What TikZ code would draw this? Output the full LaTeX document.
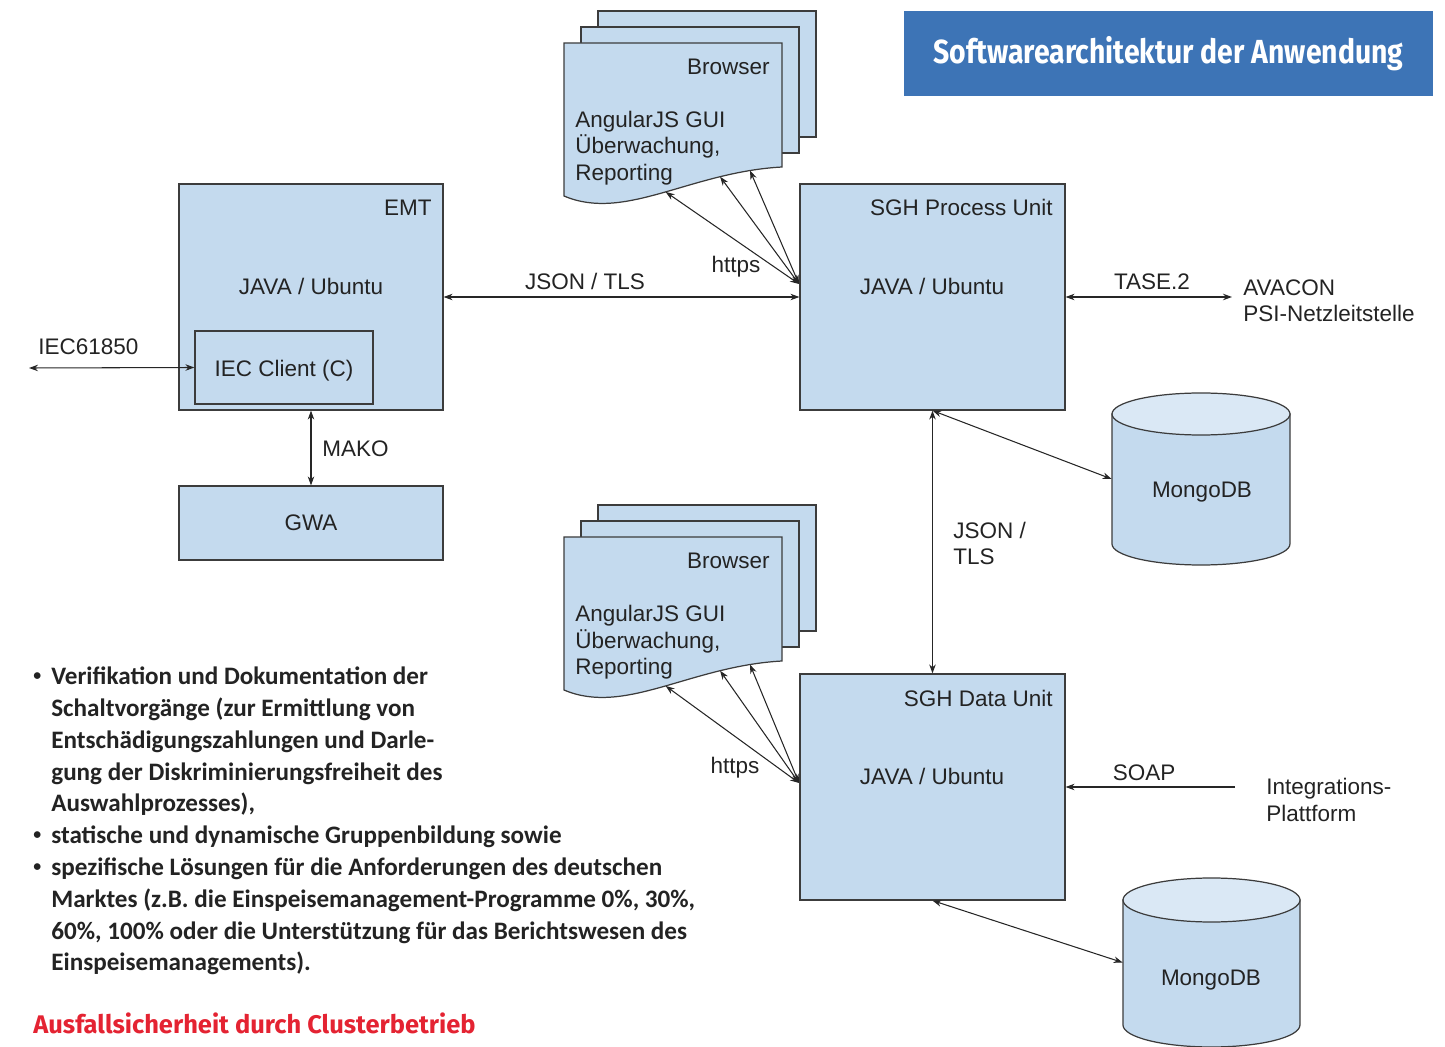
\documentclass[tikz,border=0pt]{standalone}
\usepackage{fontspec}
\setmainfont{Liberation Sans}
\newfontfamily\headfont{Fira Sans}
\newfontfamily\listfont{Carlito}
\definecolor{boxblue}{RGB}{196,218,238}
\definecolor{lidblue}{RGB}{218,232,245}
\definecolor{rim}{RGB}{60,60,60}
\definecolor{bannerblue}{RGB}{61,116,182}
\definecolor{alert}{RGB}{228,35,50}
\definecolor{ink}{RGB}{35,35,35}
\usetikzlibrary{arrows.meta,positioning}
\newcommand{\dotitem}{\raisebox{0.15em}{\fontsize{9}{9}\selectfont\textbullet}}
\tikzset{
  unit/.style={draw=rim, fill=boxblue, line width=0.7pt, inner sep=0pt},
  page/.style={draw=rim, fill=boxblue, line width=0.7pt},
  db/.style={draw=rim, fill=boxblue, line width=0.7pt},
  dblid/.style={draw=rim, fill=lidblue, line width=0.7pt},
  lbl/.style={font=\fontsize{12.8}{15}\selectfont, text=ink, inner sep=0pt},
  link/.style={{Stealth[length=1.8mm,width=1.3mm]}-{Stealth[length=1.8mm,width=1.3mm]}, line width=0.6pt, black!85},
  feed/.style={-{Stealth[length=1.8mm,width=1.3mm]}, line width=0.6pt, black!85},
}

\begin{document}
\begin{tikzpicture}[x=0.02cm,y=-0.02cm]
    \useasboundingbox (0,0) rectangle (1445,1047);
    % title
    \node[fill=bannerblue, minimum width=10.58cm, minimum height=1.7cm, inner sep=0pt, text=white,
          font=\headfont\bfseries\fontsize{19}{22}\selectfont] (banner) at (1168.5,53.5)
          {\scalebox{0.85}[1]{Softwarearchitektur der Anwendung}};

    % browser stack, top
    \draw[page] (598,11) rectangle (816,137);
    \draw[page] (581,27) rectangle (799,153);
    \draw[page] (564,43) -- (564,196) .. controls (625,222) and (690,172) .. (782,167)
      coordinate[pos=0.52] (wa1) coordinate[pos=0.76] (wa2) coordinate[pos=0.88] (wa3) -- (782,43) -- cycle;
    \node[lbl, anchor=base east] (browserA) at (770,75) {Browser};
    \node[lbl, anchor=north west, align=left] (guiA) at (575,111) {AngularJS GUI\\Überwachung,\\Reporting};

    % browser stack, bottom
    \draw[page] (598,505) rectangle (816,631);
    \draw[page] (581,521) rectangle (799,647);
    \draw[page] (564,537) -- (564,690) .. controls (625,716) and (690,666) .. (782,661)
      coordinate[pos=0.52] (wb1) coordinate[pos=0.76] (wb2) coordinate[pos=0.88] (wb3) -- (782,537) -- cycle;
    \node[lbl, anchor=base east] (browserB) at (770,569) {Browser};
    \node[lbl, anchor=north west, align=left] (guiB) at (575,605) {AngularJS GUI\\Überwachung,\\Reporting};

    % EMT
    \node[unit, minimum width=5.28cm, minimum height=4.52cm] (emt) at (311,297) {};
    \node[lbl, anchor=base east] (emtname) at (432,216) {EMT};
    \node[lbl, anchor=base] (emtos) at (311,295) {JAVA / Ubuntu};
    \node[unit, minimum width=3.56cm, minimum height=1.46cm] (iec) at (284,367.5) {};
    \node[lbl, anchor=base] (iecname) at (284,377) {IEC Client (C)};
    \node[unit, minimum width=5.28cm, minimum height=1.48cm] (gwa) at (311,523) {};
    \node[lbl, anchor=base] (gwaname) at (311,531) {GWA};

    % SGH units
    \node[unit, minimum width=5.3cm, minimum height=4.52cm] (proc) at (932.5,297) {};
    \node[lbl, anchor=base east] (procname) at (1053,216) {SGH Process Unit};
    \node[lbl, anchor=base] (procos) at (932,295) {JAVA / Ubuntu};
    \node[unit, minimum width=5.3cm, minimum height=4.52cm] (data) at (932.5,787) {};
    \node[lbl, anchor=base east] (dataname) at (1053,706) {SGH Data Unit};
    \node[lbl, anchor=base] (dataos) at (932,785) {JAVA / Ubuntu};

    % MongoDB, top
    \draw[db] (1112,414) -- (1112,544) arc[start angle=180, end angle=360, x radius=1.78cm, y radius=0.42cm] -- (1290,414) -- cycle;
    \draw[dblid] (1201,414) ellipse [x radius=1.78cm, y radius=0.42cm];
    \node[minimum width=3.56cm, minimum height=2.6cm, inner sep=0pt] (mongoA) at (1201,479) {};
    \node[lbl, anchor=base] (mongoAname) at (1202,498) {MongoDB};

    % MongoDB, bottom
    \draw[db] (1123,900) -- (1123,1025) arc[start angle=180, end angle=360, x radius=1.77cm, y radius=0.44cm] -- (1300,900) -- cycle;
    \draw[dblid] (1211.5,900) ellipse [x radius=1.77cm, y radius=0.44cm];
    \node[minimum width=3.54cm, minimum height=2.5cm, inner sep=0pt] (mongoB) at (1211.5,962.5) {};
    \node[lbl, anchor=base] (mongoBname) at (1211,985) {MongoDB};

    % outside partners
    \node[lbl, anchor=base west] (iecproto) at (38,355) {IEC61850};
    \coordinate (iecfar) at (29,368);
    \node[lbl, anchor=north west, align=left] (avacon) at (1243,279) {AVACON\\PSI-Netzleitstelle};
    \coordinate (tasefar) at (1232,297);
    \node[lbl, anchor=north west, align=left] (integ) at (1266,778) {Integrations-\\Plattform};
    \coordinate (soapfar) at (1235,787);
    \coordinate (hubA) at (799,284);
    \coordinate (hubB) at (799,783);

    % connectors
    \draw[link] (emt.east) -- (proc.west);
    \node[lbl, anchor=base] (jsonA) at (585,290) {JSON / TLS};
    \draw[link] (iecfar) -- (iec.west);
    \draw[link] (emt.south -| gwa.north) -- (gwa.north);
    \node[lbl, anchor=base west] (mako) at (322,457) {MAKO};
    \draw[link] (proc.east) -- (tasefar);
    \node[lbl, anchor=base] (tase) at (1152,290) {TASE.2};
    \draw[feed] (soapfar) -- (data.east |- soapfar);
    \node[lbl, anchor=base] (soap) at (1144,781) {SOAP};
    \draw[link] (proc.south) -- (data.north);
    \node[lbl, anchor=north west, align=left] (jsonB) at (953,522) {JSON /\\TLS};
    \draw[link] (proc.south) -- (mongoA.west);
    \draw[link] (data.south) -- (mongoB.west);
    \draw[link] (hubA) -- (wa1);
    \draw[link] (hubA) -- (wa2);
    \draw[link] (hubA) -- (wa3);
    \node[lbl, anchor=base] (httpsA) at (736,273) {https};
    \draw[link] (hubB) -- (wb1);
    \draw[link] (hubB) -- (wb2);
    \draw[link] (hubB) -- (wb3);
    \node[lbl, anchor=base] (httpsB) at (735,773) {https};

    % notes
    \node[anchor=north west, inner sep=0pt, text=ink, font=\listfont\bfseries\fontsize{14.3}{18.1}\selectfont] (notes) at (33,662) {%
      \begin{tabular}{@{}p{0.36cm}@{}l@{}}
      \dotitem & Verifikation und Dokumentation der\\
               & Schaltvorgänge (zur Ermittlung von\\
               & Entschädigungszahlungen und Darle-\\
               & gung der Diskriminierungsfreiheit des\\
               & Auswahlprozesses),\\
      \dotitem & statische und dynamische Gruppenbildung sowie\\
      \dotitem & spezifische Lösungen für die Anforderungen des deutschen\\
               & Marktes (z.B. die Einspeisemanagement-Programme 0\%, 30\%,\\
               & 60\%, 100\% oder die Unterstützung für das Berichtswesen des\\
               & Einspeisemanagements).
      \end{tabular}};
    \node[anchor=base west, inner sep=0pt, text=alert, font=\headfont\bfseries\fontsize{14.5}{17}\selectfont] (motto) at (33,1033)
      {Ausfallsicherheit durch Clusterbetrieb};
\end{tikzpicture}
\end{document}
